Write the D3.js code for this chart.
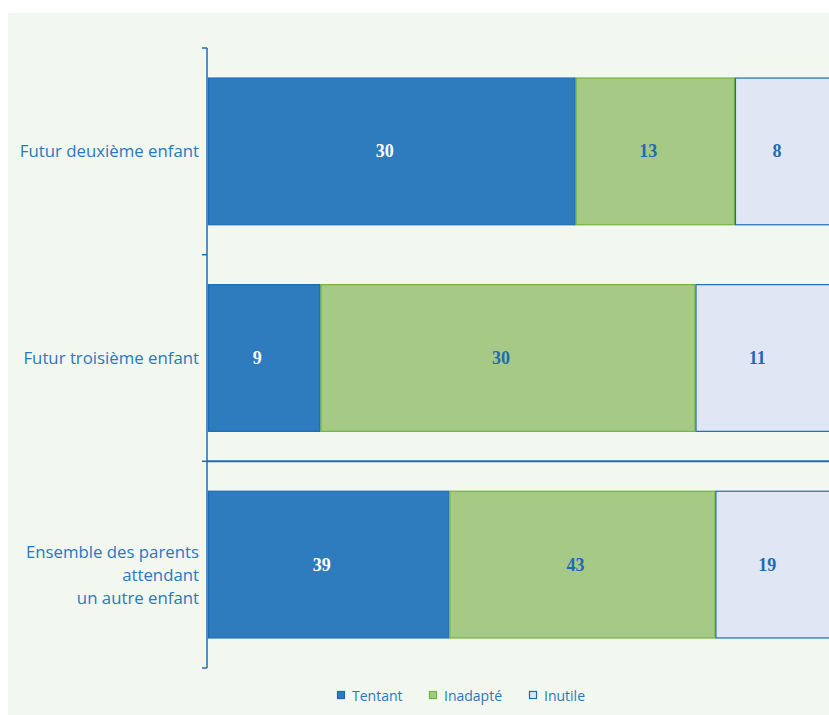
<!DOCTYPE html>
<html><head><meta charset="utf-8">
<script src="https://cdn.jsdelivr.net/npm/d3@7"></script>
<style>body{margin:0;background:#fff}svg{display:block}</style>
</head><body>
<svg id="c" width="829" height="715"></svg>
<script>
const categories = ["Futur deuxième enfant", "Futur troisième enfant", "Ensemble des parents\nattendant\nun autre enfant"];
const seriesNames = ["Tentant", "Inadapté", "Inutile"];
const tentant = [30, 9, 39];
const inadapte = [13, 30, 43];
const inutile = [8, 11, 19];

const fills = ["#2e7bbe", "#a6c985", "#e0e6f4"];
const strokes = ["#1c6cb3", "#72b43e", "#1c6cb3"];
const labelColors = ["#ffffff", "#1c6cb3", "#1c6cb3"];

const svg = d3.select("#c");
svg.append("rect").attr("x", 8).attr("y", 13).attr("width", 821).attr("height", 702).attr("fill", "#f2f7f0");

const rows = categories.map((c, i) => ({cat: c, Tentant: tentant[i], "Inadapté": inadapte[i], Inutile: inutile[i]}));
const stack = d3.stack().keys(seriesNames).offset(d3.stackOffsetExpand)(rows);

const x = d3.scaleLinear().domain([0, 1]).range([208, 833]);
const y = d3.scaleBand().domain(categories).range([48, 668]).paddingInner(0.285).paddingOuter(0.143);

const defs = svg.append("defs");
defs.append("clipPath").attr("id", "clip").append("rect").attr("x", 0).attr("y", 0).attr("width", 829).attr("height", 715);

const g = svg.append("g").attr("clip-path", "url(#clip)");
stack.forEach((s, si) => {
  g.selectAll(null).data(s).enter().append("rect")
    .attr("x", d => x(d[0]) + 0.5)
    .attr("y", d => y(d.data.cat) + 0.5)
    .attr("width", d => x(d[1]) - x(d[0]) - 1)
    .attr("height", y.bandwidth() - 1)
    .attr("fill", fills[si]).attr("stroke", strokes[si]).attr("stroke-width", 1.2);
  g.selectAll(null).data(s).enter().append("text")
    .attr("x", d => (x(d[0]) + x(d[1])) / 2 - 7)
    .attr("y", d => y(d.data.cat) + y.bandwidth() / 2)
    .attr("text-anchor", "middle").attr("dominant-baseline", "central")
    .attr("font-family", "'Liberation Serif', serif").attr("font-weight", "bold")
    .attr("font-size", 18).attr("fill", labelColors[si])
    .text(d => d.data[seriesNames[si]]);
});

// separator between groups and total
const sepY = (y(categories[1]) + y.bandwidth() + y(categories[2])) / 2;
svg.append("line").attr("x1", 207).attr("x2", 829).attr("y1", sepY).attr("y2", sepY)
  .attr("stroke", "#1c6cb3").attr("stroke-width", 2);

// axis
const ax = svg.append("g").attr("transform", "translate(207,0)");
ax.append("line").attr("x1", 0).attr("x2", 0).attr("y1", 48).attr("y2", 668).attr("stroke", "#1c6cb3").attr("stroke-width", 1.5);
const tickYs = [48].concat(categories.map(c => y(c) + y.bandwidth() + y.step() * y.paddingInner() / 2));
tickYs[3] = 668;
ax.selectAll(null).data(tickYs).enter().append("line")
  .attr("x1", -5).attr("x2", 0).attr("y1", d => d).attr("y2", d => d)
  .attr("stroke", "#1c6cb3").attr("stroke-width", 1.5);

// category labels
categories.forEach(c => {
  const lines = c.split("\n");
  const cy = y(c) + y.bandwidth() / 2 + (lines.length > 1 ? 10 : -1);
  const t = svg.append("text").attr("text-anchor", "end")
    .attr("font-family", "'Open Sans', sans-serif").attr("font-size", 16.8).attr("fill", "#2a78bd");
  lines.forEach((l, i) => {
    t.append("tspan").attr("x", 199).attr("y", cy + (i - (lines.length - 1) / 2) * 23)
      .attr("dominant-baseline", "central").text(l);
  });
});

// legend
const legX = [337, 429, 529];
seriesNames.forEach((n, i) => {
  svg.append("rect").attr("x", legX[i] + 0.5).attr("y", 691.5).attr("width", 7).attr("height", 7)
    .attr("fill", fills[i]).attr("stroke", strokes[i]).attr("stroke-width", 1.2);
  svg.append("text").attr("x", legX[i] + 15).attr("y", 695).attr("dominant-baseline", "central")
    .attr("font-family", "'Open Sans', sans-serif").attr("font-size", 14).attr("fill", "#2a78bd").text(n);
});
</script>
</body></html>
